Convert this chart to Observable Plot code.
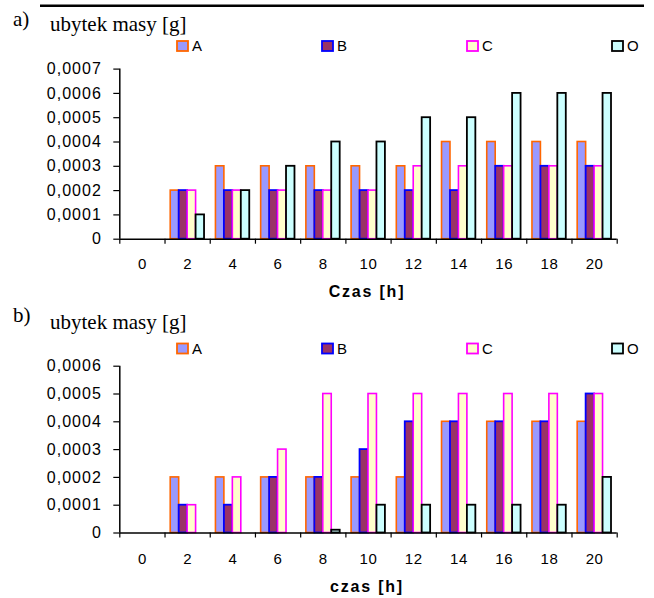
<!DOCTYPE html>
<html><head><meta charset="utf-8">
<script src="https://cdn.jsdelivr.net/npm/d3@7"></script>
<script src="https://cdn.jsdelivr.net/npm/@observablehq/plot@0.6"></script>
<style>
body{margin:0;background:#fff;}
#root{position:relative;width:654px;height:598px;overflow:hidden;background:#fff;}
#root > svg{position:absolute;left:0;}
</style></head><body><div id="root"></div>
<script>
// ---- data ----
const times = [0, 2, 4, 6, 8, 10, 12, 14, 16, 18, 20];
const seriesNames = ["A", "B", "C", "O"];
// chart a) values [g]
const aA = [null, 0.0002, 0.0003, 0.0003, 0.0003, 0.0003, 0.0003, 0.0004, 0.0004, 0.0004, 0.0004];
const aB = [null, 0.0002, 0.0002, 0.0002, 0.0002, 0.0002, 0.0002, 0.0002, 0.0003, 0.0003, 0.0003];
const aC = [null, 0.0002, 0.0002, 0.0002, 0.0002, 0.0002, 0.0003, 0.0003, 0.0003, 0.0003, 0.0003];
const aO = [null, 0.0001, 0.0002, 0.0003, 0.0004, 0.0004, 0.0005, 0.0005, 0.0006, 0.0006, 0.0006];
// chart b) values [g]
const bA = [null, 0.0002, 0.0002, 0.0002, 0.0002, 0.0002, 0.0002, 0.0004, 0.0004, 0.0004, 0.0004];
const bB = [null, 0.0001, 0.0001, 0.0002, 0.0002, 0.0003, 0.0004, 0.0004, 0.0004, 0.0004, 0.0005];
const bC = [null, 0.0001, 0.0002, 0.0003, 0.0005, 0.0005, 0.0005, 0.0005, 0.0005, 0.0005, 0.0005];
const bO = [null, null, null, null, 0.00001, 0.0001, 0.0001, 0.0001, 0.0001, 0.0001, 0.0002];
const yTicksA = [0, 0.0001, 0.0002, 0.0003, 0.0004, 0.0005, 0.0006, 0.0007];
const yTicksB = [0, 0.0001, 0.0002, 0.0003, 0.0004, 0.0005, 0.0006];
const titleText = "ubytek masy [g]";
const xTitleA = "Czas [h]";
const xTitleB = "czas [h]";

// ---- styles ----
const styles = {
  A: {fill: "#9999FF", stroke: "#FF6600", sw: 1.6},
  B: {fill: "#993366", stroke: "#0000FF", sw: 1.8},
  C: {fill: "#FFFFCC", stroke: "#FF00FF", sw: 1.6},
  O: {fill: "#CCFFFF", stroke: "#000000", sw: 1.8}
};
const fmt = d => d === 0 ? "0" : d.toFixed(4).replace(".", ",");
const boundaries = [times[0] - 1, ...times.map(t => t + 1)];
const bw = 0.374;

function chart(values, yTicks, top, height, marginTop, marginBottom, labelPad) {
  const rows = [];
  seriesNames.forEach((s, i) => values[i].forEach((v, j) => {
    if (v != null) rows.push({t: times[j], s, i, v});
  }));
  const ymax = yTicks[yTicks.length - 1];
  const barMarks = seriesNames.map(s => Plot.rect(rows.filter(d => d.s === s), {
    x1: d => d.t - 2 * bw + d.i * bw,
    x2: d => d.t - 2 * bw + (d.i + 1) * bw,
    y1: 0, y2: "v",
    fill: styles[s].fill, stroke: styles[s].stroke, strokeWidth: styles[s].sw
  }));
  const svg = Plot.plot({
    width: 654, height,
    marginLeft: 119.3, marginRight: 37.3, marginTop, marginBottom,
    x: {domain: [boundaries[0], boundaries[boundaries.length - 1]]},
    y: {domain: [0, ymax]},
    style: {fontFamily: "'Liberation Sans', Arial, sans-serif", fontSize: "15px", color: "black", background: "transparent", overflow: "visible"},
    marks: [
      ...barMarks,
      Plot.ruleY([0], {strokeWidth: 1.5}),
      Plot.ruleX([boundaries[0]], {y1: 0, y2: ymax, strokeWidth: 1.5}),
      Plot.axisY({ticks: yTicks, tickSize: 6, tickPadding: 12, tickFormat: fmt, fontSize: 16, label: null, strokeWidth: 1.2}),
      Plot.axisX({ticks: boundaries, tickSize: 5, tickFormat: () => "", label: null, strokeWidth: 1.2}),
      Plot.axisX({ticks: times, tickSize: 0, tickPadding: labelPad, label: null, fontSize: 15})
    ]
  });
  svg.style.top = top + "px";
  d3.select(svg).selectAll("g[aria-label='y-axis tick label'] text").attr("letter-spacing", "1px");
  d3.select(svg).selectAll("g[aria-label='x-axis tick label'] text").attr("letter-spacing", "0.6px");
  return svg;
}

const root = document.getElementById("root");
root.appendChild(chart([aA, aB, aC, aO], yTicksA, 56, 244, 12.6, 61.3, 19));
root.appendChild(chart([bA, bB, bC, bO], yTicksB, 356, 242, 9.7, 65.5, 20));

// ---- overlay: titles, legends ----
const ov = d3.create("svg").attr("width", 654).attr("height", 598).style("top", "0px").style("pointer-events", "none");
const serif = "'Liberation Serif', 'Times New Roman', serif";
const sans = "'Liberation Sans', Arial, sans-serif";
ov.append("line").attr("x1", 40).attr("x2", 644).attr("y1", 5.7).attr("y2", 5.7).attr("stroke", "black").attr("stroke-width", 2.5);
function header(label, yLab, yTitle, yLegend, xTitle, yX) {
  ov.append("text").attr("x", 13).attr("y", yLab).attr("font-family", serif).attr("font-size", 21).text(label);
  ov.append("text").attr("x", 50).attr("y", yTitle).attr("font-family", serif).attr("font-size", 21).text(titleText);
  seriesNames.forEach((s, i) => {
    const x = 177 + i * 145;
    ov.append("rect").attr("x", x).attr("y", yLegend - 5).attr("width", 11).attr("height", 10)
      .attr("fill", styles[s].fill).attr("stroke", styles[s].stroke).attr("stroke-width", 1.8);
    ov.append("text").attr("x", x + 15).attr("y", yLegend + 5.4).attr("font-family", sans).attr("font-size", 15).text(s);
  });
  ov.append("text").attr("x", 367).attr("y", yX).attr("text-anchor", "middle").attr("font-family", sans)
    .attr("font-size", 16).attr("font-weight", "bold").attr("letter-spacing", "1.8px").text(xTitle);
}
header("a)", 26, 31, 46, xTitleA, 296.7);
header("b)", 322, 329, 348.5, xTitleB, 591.5);
root.appendChild(ov.node());
</script></body></html>
